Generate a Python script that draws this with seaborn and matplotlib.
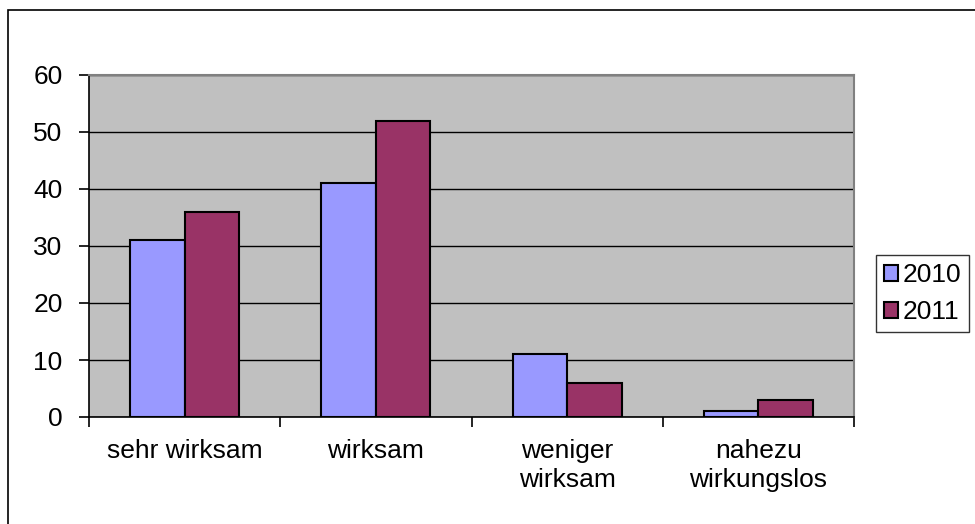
import matplotlib
matplotlib.use("Agg")
import matplotlib.pyplot as plt
import seaborn as sns
import pandas as pd
from matplotlib.patches import Rectangle, Patch

categories = ["sehr wirksam", "wirksam", "weniger\nwirksam", "nahezu\nwirkungslos"]
years = ["2010", "2011"]
values_2010 = [31, 41, 11, 1]
values_2011 = [36, 52, 6, 3]
y_ticks = [0, 10, 20, 30, 40, 50, 60]
colors = ["#9999FF", "#993366"]

df = pd.DataFrame({
    "Kategorie": categories * 2,
    "Jahr": [years[0]] * 4 + [years[1]] * 4,
    "Wert": values_2010 + values_2011,
})

sns.set_theme(style="white")
plt.rcParams["font.family"] = ["Liberation Sans", "DejaVu Sans"]
plt.rcParams["text.color"] = "black"
plt.rcParams["xtick.color"] = "black"
plt.rcParams["ytick.color"] = "black"
plt.rcParams["xtick.labelcolor"] = "black"
plt.rcParams["ytick.labelcolor"] = "black"

FS = 19

fig = plt.figure(figsize=(9.75, 5.24), dpi=100)
ax = fig.add_axes([89 / 975, 1 - 417 / 524, (854 - 89) / 975, (417 - 75) / 524])
ax.set_facecolor("#C0C0C0")

sns.barplot(data=df, x="Kategorie", y="Wert", hue="Jahr", palette=colors,
            width=0.57, edgecolor="black", linewidth=1.5, ax=ax, legend=False,
            zorder=3, saturation=1)

ax.set_ylim(0, 60)
ax.set_xlim(-0.5, 3.5)
ax.set_yticks(y_ticks)
ax.set_yticklabels([str(t) for t in y_ticks], fontsize=FS)
ax.yaxis.grid(True, color="black", linewidth=1.0, zorder=1)
ax.set_axisbelow(True)

ax.set_xticks([-0.5, 0.5, 1.5, 2.5, 3.5])
ax.set_xticklabels([])
ax.set_xticks(range(len(categories)), minor=True)
ax.set_xticklabels(categories, minor=True, fontsize=FS, linespacing=1.25)
ax.tick_params(axis="x", which="minor", bottom=True, length=0, pad=16)
ax.tick_params(axis="x", which="major", bottom=True, direction="out", length=7, width=1.2, color="black")
ax.tick_params(axis="y", left=True, direction="out", length=7, width=1.2, color="black", pad=12)
ax.set_xlabel("")
ax.set_ylabel("")

ax.spines["left"].set_color("black")
ax.spines["bottom"].set_color("black")
ax.spines["left"].set_linewidth(1.2)
ax.spines["bottom"].set_linewidth(1.2)
ax.spines["top"].set_color("#808080")
ax.spines["right"].set_color("#808080")
ax.spines["top"].set_linewidth(1.5)
ax.spines["right"].set_linewidth(1.5)
for s in ax.spines.values():
    s.set_visible(True)

handles = [Patch(facecolor=c, edgecolor="black", linewidth=1.5) for c in colors]
leg = fig.legend(handles, years, loc="upper left",
                 bbox_to_anchor=(876 / 975, 1 - 255 / 524),
                 frameon=True, fancybox=False, fontsize=FS,
                 handlelength=0.55, handleheight=0.55, handletextpad=0.15,
                 labelspacing=0.5, borderpad=0.3, borderaxespad=0)
leg.get_frame().set_edgecolor("black")
leg.get_frame().set_linewidth(1.0)
for t in leg.get_texts():
    t.set_color("black")

frame = Rectangle((8 / 975, -0.1), 1.2, 1 - 10 / 524 + 0.1, transform=fig.transFigure,
                  fill=False, edgecolor="black", linewidth=1.2, clip_on=False)
fig.patches.append(frame)

fig.savefig("out.png", dpi=100)
